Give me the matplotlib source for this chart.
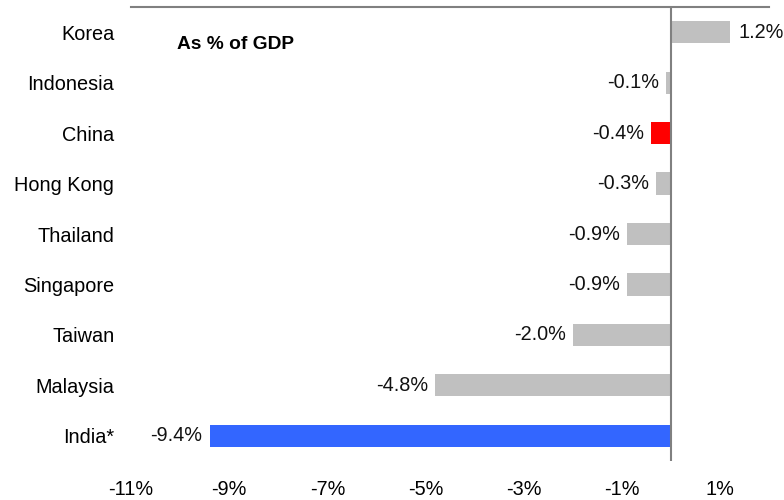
import matplotlib
matplotlib.use('Agg')
import matplotlib.pyplot as plt

# current account balance, as % of GDP
countries = ['India*', 'Malaysia', 'Taiwan', 'Singapore', 'Thailand',
             'Hong Kong', 'China', 'Indonesia', 'Korea']
values = [-9.4, -4.8, -2.0, -0.9, -0.9, -0.3, -0.4, -0.1, 1.2]
colors = ['#3366FF', '#C0C0C0', '#C0C0C0', '#C0C0C0', '#C0C0C0',
          '#C0C0C0', '#FF0000', '#C0C0C0', '#C0C0C0']
xticks = [-11, -9, -7, -5, -3, -1, 1]

plt.rcParams['font.family'] = ['Liberation Sans', 'DejaVu Sans']
fs = 14.3

fig = plt.figure(figsize=(7.84, 5), dpi=100)
ax = fig.add_axes([0.1671, 0.078, 0.8139, 0.908])

ypos = list(range(len(countries)))
ax.barh(ypos, values, height=0.44, color=colors, zorder=2)
ax.axvline(0, color='#808080', lw=1.5, zorder=3)

for y, v in zip(ypos, values):
	if v >= 0:
		ax.annotate('%.1f%%' % v, (v, y), xytext=(6, 0), textcoords='offset points',
		            ha='left', va='center', fontsize=fs, color='#111111')
	else:
		ax.annotate('%.1f%%' % v, (v, y), xytext=(-5, 0), textcoords='offset points',
		            ha='right', va='center', fontsize=fs, color='#111111')

ax.text(0.072, 0.918, 'As % of GDP', transform=ax.transAxes, fontsize=fs - 0.5,
        fontweight='bold', ha='left', va='center')

ax.set_xlim(-11, 2)
ax.set_ylim(-0.5, 8.5)
ax.set_xticks(xticks)
ax.set_xticklabels(['%d%%' % t for t in xticks], fontsize=fs)
ax.set_yticks(ypos)
ax.set_yticklabels(countries, fontsize=fs)
ax.tick_params(axis='x', length=0, pad=14)
ax.tick_params(axis='y', length=0, pad=12)

for s in ['left', 'right', 'bottom']:
	ax.spines[s].set_visible(False)
ax.spines['top'].set_color('#808080')
ax.spines['top'].set_linewidth(1.5)

fig.savefig('out.png', dpi=100)
